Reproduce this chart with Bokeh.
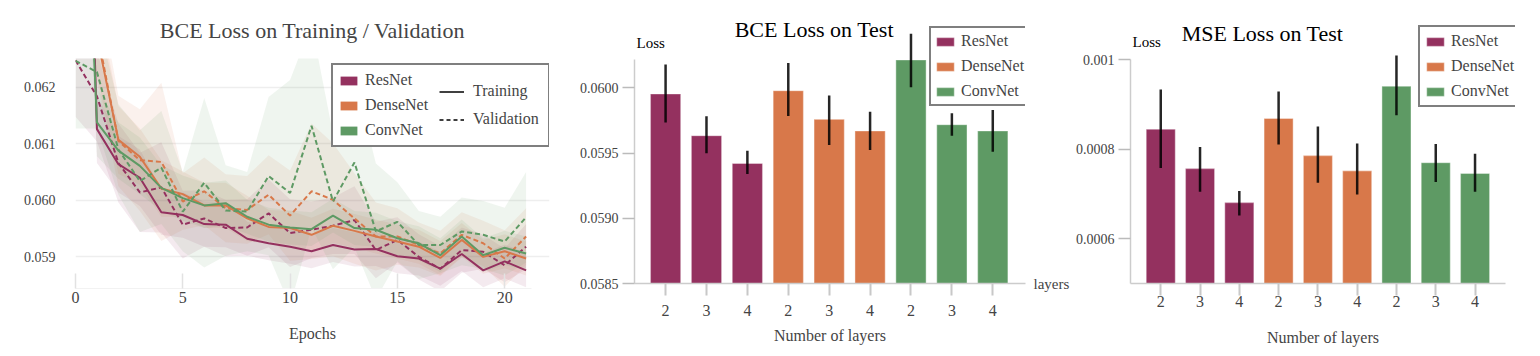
from bokeh.plotting import figure
from bokeh.layouts import row
from bokeh.models import (Range1d, FixedTicker, NumeralTickFormatter, Legend,
                          LegendItem, Label, ColumnDataSource, LinearAxis)
from bokeh.embed import file_html
from bokeh.resources import INLINE

FONT = "Liberation Serif"
models = ["ResNet", "DenseNet", "ConvNet"]
colors = ["#94315F", "#D8784A", "#5E9A64"]

# ---------------- training / validation curves ----------------
epochs = list(range(22))
resnet_train = [0.0740, 0.06126, 0.06064, 0.06040, 0.05979, 0.05974, 0.05958, 0.05957, 0.05932, 0.05924, 0.05918,
                0.05910, 0.05921, 0.05913, 0.05914, 0.05901, 0.05897, 0.05879, 0.05905, 0.05876, 0.05892, 0.05876]
resnet_val = [0.06248, 0.06184, 0.06066, 0.06014, 0.06023, 0.05957, 0.05968, 0.05951, 0.05952, 0.05977, 0.05942,
              0.05948, 0.05955, 0.05965, 0.05912, 0.05930, 0.05900, 0.05879, 0.05912, 0.05909, 0.05885, 0.05918]
densenet_train = [0.0680, 0.06290, 0.06107, 0.06077, 0.06021, 0.06011, 0.05991, 0.05991, 0.05968, 0.05953, 0.05951,
                  0.05939, 0.05955, 0.05946, 0.05936, 0.05927, 0.05918, 0.05898, 0.05930, 0.05900, 0.05910, 0.05897]
densenet_val = [0.0660, 0.06300, 0.06105, 0.06071, 0.06068, 0.05998, 0.06016, 0.05986, 0.05983, 0.06010, 0.05973,
                0.06016, 0.06001, 0.05968, 0.05936, 0.05936, 0.05921, 0.05906, 0.05939, 0.05924, 0.05897, 0.05936]
convnet_train = [0.0700, 0.06138, 0.06088, 0.06061, 0.06022, 0.06004, 0.05991, 0.05995, 0.05971, 0.05957, 0.05952,
                 0.05949, 0.05973, 0.05951, 0.05948, 0.05933, 0.05924, 0.05903, 0.05936, 0.05903, 0.05916, 0.05906]
convnet_val = [0.06247, 0.06227, 0.06090, 0.06034, 0.06058, 0.05980, 0.06031, 0.05982, 0.05980, 0.06043, 0.06013,
               0.06132, 0.05998, 0.06067, 0.05945, 0.05962, 0.05921, 0.05921, 0.05945, 0.05939, 0.05927, 0.05970]
# half-width of the shaded band around each curve
resnet_train_sd = [0.0010, 0.0006, 0.0005, 0.0005, 0.0004, 0.0004, 0.0004, 0.0004, 0.0003, 0.0003, 0.0003,
                   0.0003, 0.0003, 0.0003, 0.0003, 0.0003, 0.0003, 0.0003, 0.0003, 0.0003, 0.0003, 0.0003]
resnet_val_sd = [0.0010, 0.0008, 0.0007, 0.0007, 0.0008, 0.0006, 0.0005, 0.0005, 0.0005, 0.0006, 0.0006,
                 0.0005, 0.0005, 0.0006, 0.0005, 0.0004, 0.0004, 0.0004, 0.0004, 0.0003, 0.0003, 0.0004]
densenet_train_sd = [0.0010, 0.0007, 0.0006, 0.0005, 0.0005, 0.0004, 0.0004, 0.0004, 0.0004, 0.0003, 0.0003,
                     0.0003, 0.0003, 0.0003, 0.0003, 0.0003, 0.0003, 0.0003, 0.0003, 0.0003, 0.0003, 0.0003]
densenet_val_sd = [0.0010, 0.0009, 0.0008, 0.0009, 0.0014, 0.0005, 0.0006, 0.0006, 0.0006, 0.0007, 0.0008,
                   0.0012, 0.0010, 0.0008, 0.0006, 0.0005, 0.0004, 0.0004, 0.0004, 0.0004, 0.0005, 0.0005]
convnet_train_sd = [0.0010, 0.0006, 0.0005, 0.0005, 0.0004, 0.0004, 0.0004, 0.0004, 0.0003, 0.0003, 0.0003,
                    0.0003, 0.0003, 0.0003, 0.0003, 0.0003, 0.0003, 0.0003, 0.0003, 0.0003, 0.0003, 0.0003]
convnet_val_sd = [0.0012, 0.0010, 0.0008, 0.0009, 0.0010, 0.0007, 0.0015, 0.0008, 0.0007, 0.0014, 0.0020,
                  0.0018, 0.0012, 0.0015, 0.0012, 0.0007, 0.0006, 0.0005, 0.0006, 0.0006, 0.0006, 0.0008]
curve_ticks = [0.059, 0.060, 0.061, 0.062]
epoch_ticks = [0, 5, 10, 15, 20]

# ---------------- test bars ----------------
bar_models = ["ResNet", "ResNet", "ResNet", "DenseNet", "DenseNet", "DenseNet", "ConvNet", "ConvNet", "ConvNet"]
bar_layers = ["2", "3", "4", "2", "3", "4", "2", "3", "4"]
bce_mean = [0.059954, 0.059634, 0.059421, 0.059979, 0.059759, 0.059670, 0.060215, 0.059718, 0.059670]
bce_low = [0.059734, 0.059498, 0.059340, 0.059785, 0.059562, 0.059524, 0.060005, 0.059634, 0.059511]
bce_high = [0.060179, 0.059782, 0.059519, 0.060192, 0.059941, 0.059818, 0.060415, 0.059805, 0.059831]
bce_ticks = [0.0585, 0.0590, 0.0595, 0.0600]
mse_mean = [0.000845, 0.000757, 0.000681, 0.000869, 0.000786, 0.000752, 0.000941, 0.000770, 0.000746]
mse_low = [0.000758, 0.000705, 0.000652, 0.000811, 0.000725, 0.000699, 0.000876, 0.000727, 0.000705]
mse_high = [0.000934, 0.000805, 0.000707, 0.000929, 0.000851, 0.000813, 0.001010, 0.000812, 0.000790]
mse_ticks = [0.0006, 0.0008, 0.0010]

NAN = float("nan")
H = 350


def base_fig(width, x_range, y_range, ml, mr, mt, mb, title=None):
    p = figure(width=width, height=H, x_range=x_range, y_range=y_range, title=title,
               output_backend="svg", toolbar_location=None,
               min_border_left=ml, min_border_right=mr, min_border_top=mt, min_border_bottom=mb)
    p.frame_align = False
    p.outline_line_color = None
    p.background_fill_color = "white"
    p.border_fill_color = "white"
    for ax in (p.xaxis[0], p.yaxis[0]):
        ax.major_label_text_font = FONT
        ax.axis_label_text_font = FONT
        ax.axis_label_text_font_style = "normal"
        ax.minor_tick_line_color = None
    return p


def text(p, x, y, s, size, align="center", baseline="middle"):
    p.add_layout(Label(x=x, y=y, text=s, text_font=FONT, text_font_size=size,
                       text_align=align, text_baseline=baseline, text_color="black"))


# =============== Panel 1 ===============
p1 = base_fig(560, Range1d(0, 22.09), Range1d(0.05844, 0.06251), 75, 11, 58, 62,
              title="BCE Loss on Training / Validation")
p1.title.text_font = FONT
p1.title.text_font_size = "22px"
p1.title.text_font_style = "normal"
p1.title.align = "center"
p1.title.standoff = 31
p1.xgrid.grid_line_color = None
p1.ygrid.grid_line_color = "#eeeeee"
p1.ygrid.grid_line_width = 1.5
p1.ygrid.bounds = (0, 21.25)
p1.ygrid.ticker = FixedTicker(ticks=curve_ticks)
p1.yaxis.ticker = FixedTicker(ticks=curve_ticks)
p1.yaxis.formatter = NumeralTickFormatter(format="0.000")
p1.yaxis.axis_line_color = None
p1.yaxis.major_tick_line_color = None
p1.yaxis.major_label_text_font_size = "14px"
p1.yaxis.major_label_standoff = 14
p1.xaxis.ticker = FixedTicker(ticks=epoch_ticks)
p1.xaxis.bounds = (0, 21.25)
p1.xaxis.axis_line_color = "#f2f2f2"
p1.xaxis.major_tick_line_color = "#e2e2e2"
p1.xaxis.major_tick_line_width = 1.5
p1.xaxis.major_tick_in = 15
p1.xaxis.major_tick_out = 0
p1.xaxis.major_label_text_font_size = "16px"
p1.xaxis.major_label_standoff = 3
p1.xaxis.axis_label = "Epochs"
p1.xaxis.axis_label_text_font_size = "16px"
p1.xaxis.axis_label_standoff = 19

series = [
    (resnet_train, resnet_train_sd, resnet_val, resnet_val_sd),
    (densenet_train, densenet_train_sd, densenet_val, densenet_val_sd),
    (convnet_train, convnet_train_sd, convnet_val, convnet_val_sd),
]
for (tr, tr_sd, va, va_sd), c in zip(series, colors):
    for mean, sd in ((tr, tr_sd), (va, va_sd)):
        lo = [m - s for m, s in zip(mean, sd)]
        hi = [m + s for m, s in zip(mean, sd)]
        p1.varea(x=epochs, y1=lo, y2=hi, fill_color=c, fill_alpha=0.10)
for (tr, tr_sd, va, va_sd), c in zip(series, colors):
    p1.line(epochs, va, line_color=c, line_width=2, line_dash="5 3")
    p1.line(epochs, tr, line_color=c, line_width=2)

# legend-only renderers (no visible data)
model_items = []
for m, c in zip(models, colors):
    r = p1.vbar(x=[NAN], top=[NAN], width=0.5, fill_color=c, line_color=None)
    model_items.append(LegendItem(label=m, renderers=[r]))
leg1 = Legend(items=model_items, location=(256, 141), glyph_width=21, glyph_height=11,
              label_text_font=FONT, label_text_font_size="16px", label_height=20, label_width=178,
              label_standoff=6, spacing=5, padding=5, margin=0,
              border_line_color="black", border_line_width=2.5, background_fill_alpha=1)
p1.add_layout(leg1)
r_tr = p1.line(x=[NAN, NAN], y=[NAN, NAN], line_color="black", line_width=1.5)
r_va = p1.line(x=[NAN, NAN], y=[NAN, NAN], line_color="black", line_width=1.5, line_dash="4 3")
leg2 = Legend(items=[LegendItem(label="Training", renderers=[r_tr]),
                     LegendItem(label="Validation", renderers=[r_va])],
              location=(364, 159), glyph_width=25, glyph_height=11,
              label_text_font=FONT, label_text_font_size="16px", label_height=20,
              label_standoff=9, spacing=8, padding=0, margin=0,
              border_line_color=None, background_fill_alpha=0)
p1.add_layout(leg2)


# =============== Bar panels ===============
def bar_panel(width, x_range, y_range, ml, mr, mean, low, high, ticks, fmt, ybounds, xbounds,
              title, title_xy, loss_xy, leg_loc, leg_pad, tick_standoff, axlab_standoff,
              with_layers=False):
    p = base_fig(width, x_range, y_range, ml, mr, 20, 67)
    p.grid.grid_line_color = None
    src = ColumnDataSource(dict(x=list(range(len(mean))), top=mean, low=low, high=high,
                                model=bar_models,
                                color=[colors[models.index(m)] for m in bar_models]))
    p.vbar(x="x", top="top", bottom=0, width=0.74, source=src, fill_color="color",
           line_color="white", line_alpha=0.35, line_width=1.2, legend_field="model")
    p.segment(x0="x", x1="x", y0="low", y1="high", source=src, line_color="black",
              line_width=2.5, line_alpha=0.85)
    p.yaxis.ticker = FixedTicker(ticks=ticks)
    p.yaxis.formatter = NumeralTickFormatter(format=fmt)
    p.yaxis.bounds = ybounds
    p.yaxis.axis_line_color = "#cccccc"
    p.yaxis.axis_line_width = 1.5
    p.yaxis.major_tick_line_color = "#bbbbbb"
    p.yaxis.major_tick_line_width = 1.5
    p.yaxis.major_tick_in = 0
    p.yaxis.major_tick_out = 12
    p.yaxis.major_label_standoff = 4
    p.yaxis.major_label_text_font_size = "14px"
    p.xaxis.ticker = FixedTicker(ticks=list(range(len(bar_layers))))
    p.xaxis.major_label_overrides = {i: s for i, s in enumerate(bar_layers)}
    p.xaxis.bounds = xbounds
    p.xaxis.axis_line_color = "#cccccc"
    p.xaxis.axis_line_width = 1.5
    p.xaxis.major_tick_line_color = "#c8c8c8"
    p.xaxis.major_tick_line_width = 2
    p.xaxis.major_tick_in = 0
    p.xaxis.major_tick_out = 12
    p.xaxis.major_label_standoff = tick_standoff
    p.xaxis.major_label_text_font_size = "16px"
    p.xaxis.axis_label = "Number of layers"
    p.xaxis.axis_label_text_font_size = "16px"
    p.xaxis.axis_label_standoff = axlab_standoff
    if with_layers:
        # unit name written at the right end of the x axis, level with the baseline
        base = y_range.start
        ax = LinearAxis(ticker=FixedTicker(ticks=[base]), major_label_overrides={base: "layers"},
                        axis_line_color=None, major_tick_line_color=None, minor_tick_line_color=None,
                        major_label_text_font=FONT, major_label_text_font_size="15px",
                        major_label_standoff=2)
        p.add_layout(ax, "right")
    lg = p.legend[0]
    lg.location = leg_loc
    lg.glyph_width = 22
    lg.glyph_height = 11
    lg.label_text_font = FONT
    lg.label_text_font_size = "16px"
    lg.label_height = 20
    lg.label_standoff = 5
    lg.spacing = 5
    lg.padding = leg_pad
    lg.margin = 0
    lg.border_line_color = "black"
    lg.border_line_width = 2.5
    lg.background_fill_alpha = 1
    text(p, title_xy[0], title_xy[1], title, "22px")
    text(p, loss_xy[0], loss_xy[1], "Loss", "15px", align="left")
    return p


p2 = bar_panel(512, Range1d(-0.76, 8.8), Range1d(0.0585, 0.060517), 74, 40,
               bce_mean, bce_low, bce_high, bce_ticks, "0.0000", (0.0585, 0.06022), (-0.76, 8.8),
               "BCE Loss on Test", (3.636, 0.06045), (-0.712, 0.060342), (295, 177), 3, 9, 8,
               with_layers=True)
p3 = bar_panel(464, Range1d(-0.77, 9.03), Range1d(0.0005, 0.001088), 55, 21,
               mse_mean, mse_low, mse_high, mse_ticks, "0.[0000]", (0.0005, 0.001), (-0.77, 8.78),
               "MSE Loss on Test", (2.590, 0.0010593), (-0.72, 0.001039), (288, 176), 4, 0, 19)

layout = row(p1, p2, p3)
open("out.html", "w").write(file_html(layout, INLINE))
